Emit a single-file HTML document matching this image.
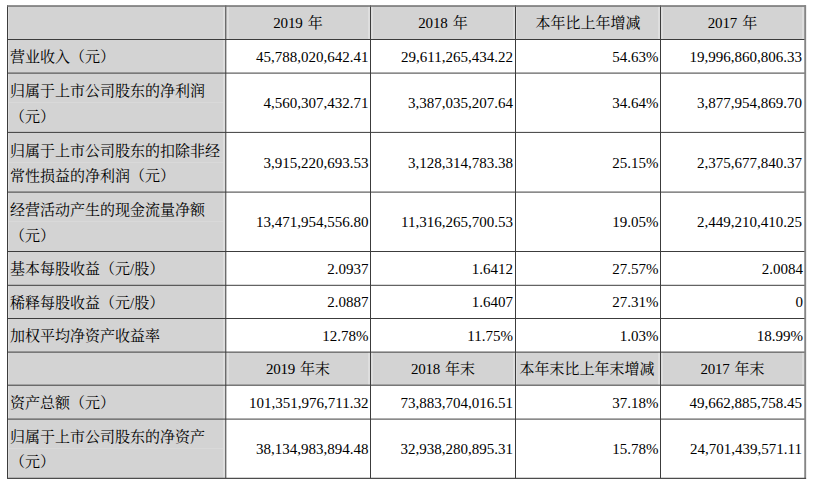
<!DOCTYPE html>
<html lang="zh-CN">
<head>
<meta charset="utf-8">
<title>主要会计数据和财务指标</title>
<style>
html,body{margin:0;padding:0;background:#fff;}
body{width:813px;height:485px;position:relative;overflow:hidden;
  font-family:"Liberation Serif",serif;font-size:15px;line-height:26px;color:#000;}
.c{position:absolute;box-sizing:border-box;display:flex;align-items:center;white-space:nowrap;}
.g{background:#d3d3d3;}
.s0{box-shadow:inset 1px 0 0 #dedede, inset -3px 0 0 #dedede;}
.s1{box-shadow:inset 3px 0 0 #dedede, inset -2px 0 0 #dedede;}
.s2{box-shadow:inset 3px 0 0 #dedede, inset -3px 0 0 #dedede;}
.s3{box-shadow:inset 1px 0 0 #dedede, inset -2px 0 0 #dedede;}
.s4{box-shadow:inset 3px 0 0 #dedede, inset -3px 0 0 #dedede;}
.seam{position:absolute;left:1px;right:3px;height:1px;background:#d9d9d9;}
.ln{position:absolute;left:2px;height:20px;line-height:20px;white-space:nowrap;}
.r{justify-content:flex-end;padding-right:2px;}
.m{justify-content:center;}
/* CJK run: real text in a CJK serif font */
.k{display:inline-block;vertical-align:baseline;white-space:nowrap;letter-spacing:0;
  font-family:"Liberation Serif","Noto Serif CJK SC",serif;font-size:15px;color:#000;}
svg.grid{position:absolute;left:0;top:0;}
</style>
</head>
<body>
<div class="c g s0" style="left:8px;top:6px;width:218px;height:34px"></div>
<div class="c g s1 m" style="left:226px;top:6px;width:144px;height:34px;letter-spacing:-0.15px"><span>2019 <span class="k" style="width:15px;margin-left:1.5px">年</span></span></div>
<div class="c g s2 m" style="left:370px;top:6px;width:146px;height:34px;letter-spacing:-0.15px"><span>2018 <span class="k" style="width:15px;margin-left:1.5px">年</span></span></div>
<div class="c g s3 m" style="left:516px;top:6px;width:144px;height:34px"><span><span class="k" style="width:105px">本年比上年增减</span></span></div>
<div class="c g s4 m" style="left:660px;top:6px;width:145px;height:34px;letter-spacing:-0.15px"><span>2017 <span class="k" style="width:15px;margin-left:1.5px">年</span></span></div>
<div class="c g s0" style="left:8px;top:40px;width:218px;height:33px"><div class="ln" style="top:7px"><span class="k" style="width:105px">营业收入（元）</span></div></div>
<div class="c r" style="left:226px;top:40px;width:144px;height:33px;padding-right:1.5px"><span>45,788,020,642.41</span></div>
<div class="c r" style="left:370px;top:40px;width:146px;height:33px;padding-right:3px"><span>29,611,265,434.22</span></div>
<div class="c r" style="left:516px;top:40px;width:144px;height:33px;padding-right:1.5px"><span>54.63%</span></div>
<div class="c r" style="left:660px;top:40px;width:145px;height:33px;padding-right:3px"><span>19,996,860,806.33</span></div>
<div class="c g s0" style="left:8px;top:73px;width:218px;height:59px"><div class="ln" style="top:8px"><span class="k" style="width:195px">归属于上市公司股东的净利润</span></div><div class="ln" style="top:34px"><span class="k" style="width:45px">（元）</span></div><div class="seam" style="top:29px"></div></div>
<div class="c r" style="left:226px;top:73px;width:144px;height:59px;padding-right:1.5px"><span>4,560,307,432.71</span></div>
<div class="c r" style="left:370px;top:73px;width:146px;height:59px;padding-right:3px"><span>3,387,035,207.64</span></div>
<div class="c r" style="left:516px;top:73px;width:144px;height:59px;padding-right:1.5px"><span>34.64%</span></div>
<div class="c r" style="left:660px;top:73px;width:145px;height:59px;padding-right:3px"><span>3,877,954,869.70</span></div>
<div class="c g s0" style="left:8px;top:132px;width:218px;height:60px"><div class="ln" style="top:9px"><span class="k" style="width:210px">归属于上市公司股东的扣除非经</span></div><div class="ln" style="top:34px"><span class="k" style="width:165px">常性损益的净利润（元）</span></div><div class="seam" style="top:30px"></div></div>
<div class="c r" style="left:226px;top:132px;width:144px;height:60px;padding-right:1.5px;padding-top:2px"><span>3,915,220,693.53</span></div>
<div class="c r" style="left:370px;top:132px;width:146px;height:60px;padding-right:3px;padding-top:2px"><span>3,128,314,783.38</span></div>
<div class="c r" style="left:516px;top:132px;width:144px;height:60px;padding-right:1.5px;padding-top:2px"><span>25.15%</span></div>
<div class="c r" style="left:660px;top:132px;width:145px;height:60px;padding-right:3px;padding-top:2px"><span>2,375,677,840.37</span></div>
<div class="c g s0" style="left:8px;top:192px;width:218px;height:60px"><div class="ln" style="top:8px"><span class="k" style="width:195px">经营活动产生的现金流量净额</span></div><div class="ln" style="top:34px"><span class="k" style="width:45px">（元）</span></div><div class="seam" style="top:29px"></div></div>
<div class="c r" style="left:226px;top:192px;width:144px;height:60px;padding-right:1.5px"><span>13,471,954,556.80</span></div>
<div class="c r" style="left:370px;top:192px;width:146px;height:60px;padding-right:3px"><span>11,316,265,700.53</span></div>
<div class="c r" style="left:516px;top:192px;width:144px;height:60px;padding-right:1.5px"><span>19.05%</span></div>
<div class="c r" style="left:660px;top:192px;width:145px;height:60px;padding-right:3px"><span>2,449,210,410.25</span></div>
<div class="c g s0" style="left:8px;top:252px;width:218px;height:33px"><div class="ln" style="top:7px"><span class="k" style="width:120px">基本每股收益（元</span>/<span class="k" style="width:30px">股）</span></div></div>
<div class="c r" style="left:226px;top:252px;width:144px;height:33px;padding-right:1.5px"><span>2.0937</span></div>
<div class="c r" style="left:370px;top:252px;width:146px;height:33px;padding-right:3px"><span>1.6412</span></div>
<div class="c r" style="left:516px;top:252px;width:144px;height:33px;padding-right:1.5px"><span>27.57%</span></div>
<div class="c r" style="left:660px;top:252px;width:145px;height:33px"><span>2.0084</span></div>
<div class="c g s0" style="left:8px;top:285px;width:218px;height:33px"><div class="ln" style="top:8px"><span class="k" style="width:120px">稀释每股收益（元</span>/<span class="k" style="width:30px">股）</span></div></div>
<div class="c r" style="left:226px;top:285px;width:144px;height:33px;padding-right:1.5px"><span>2.0887</span></div>
<div class="c r" style="left:370px;top:285px;width:146px;height:33px;padding-right:3px"><span>1.6407</span></div>
<div class="c r" style="left:516px;top:285px;width:144px;height:33px;padding-right:1.5px"><span>27.31%</span></div>
<div class="c r" style="left:660px;top:285px;width:145px;height:33px"><span>0</span></div>
<div class="c g s0" style="left:8px;top:318px;width:218px;height:34px"><div class="ln" style="top:8px"><span class="k" style="width:150px">加权平均净资产收益率</span></div></div>
<div class="c r" style="left:226px;top:318px;width:144px;height:34px;padding-right:1.5px;padding-top:2px"><span>12.78%</span></div>
<div class="c r" style="left:370px;top:318px;width:146px;height:34px;padding-right:3px;padding-top:2px"><span>11.75%</span></div>
<div class="c r" style="left:516px;top:318px;width:144px;height:34px;padding-right:1.5px;padding-top:2px"><span>1.03%</span></div>
<div class="c r" style="left:660px;top:318px;width:145px;height:34px;padding-top:2px"><span>18.99%</span></div>
<div class="c g s0" style="left:8px;top:352px;width:218px;height:33px"></div>
<div class="c g s1 m" style="left:226px;top:352px;width:144px;height:33px;letter-spacing:-0.3px"><span>2019 <span class="k" style="width:30px;margin-left:1.5px">年末</span></span></div>
<div class="c g s2 m" style="left:370px;top:352px;width:146px;height:33px;letter-spacing:-0.3px"><span>2018 <span class="k" style="width:30px;margin-left:1.5px">年末</span></span></div>
<div class="c g s3 m" style="left:516px;top:352px;width:144px;height:33px;padding-right:2px"><span><span class="k" style="width:135px">本年末比上年末增减</span></span></div>
<div class="c g s4 m" style="left:660px;top:352px;width:145px;height:33px;letter-spacing:-0.3px"><span>2017 <span class="k" style="width:30px;margin-left:1.5px">年末</span></span></div>
<div class="c g s0" style="left:8px;top:385px;width:218px;height:34px"><div class="ln" style="top:8px"><span class="k" style="width:105px">资产总额（元）</span></div></div>
<div class="c r" style="left:226px;top:385px;width:144px;height:34px;padding-right:1.5px;padding-top:2px"><span>101,351,976,711.32</span></div>
<div class="c r" style="left:370px;top:385px;width:146px;height:34px;padding-right:3px;padding-top:2px"><span>73,883,704,016.51</span></div>
<div class="c r" style="left:516px;top:385px;width:144px;height:34px;padding-right:1.5px;padding-top:2px"><span>37.18%</span></div>
<div class="c r" style="left:660px;top:385px;width:145px;height:34px;padding-right:3px;padding-top:2px"><span>49,662,885,758.45</span></div>
<div class="c g s0" style="left:8px;top:419px;width:218px;height:59px"><div class="ln" style="top:8px"><span class="k" style="width:195px">归属于上市公司股东的净资产</span></div><div class="ln" style="top:33px"><span class="k" style="width:45px">（元）</span></div><div class="seam" style="top:29px"></div></div>
<div class="c r" style="left:226px;top:419px;width:144px;height:59px;padding-right:1.5px"><span>38,134,983,894.48</span></div>
<div class="c r" style="left:370px;top:419px;width:146px;height:59px;padding-right:3px"><span>32,938,280,895.31</span></div>
<div class="c r" style="left:516px;top:419px;width:144px;height:59px;padding-right:1.5px"><span>15.78%</span></div>
<div class="c r" style="left:660px;top:419px;width:145px;height:59px;padding-right:3px"><span>24,701,439,571.11</span></div>
<svg class="grid" width="813" height="485" viewBox="0 0 813 485" aria-hidden="true">
<g stroke="#3c3c3c" stroke-width="1" fill="none">
<line x1="7.0" y1="39.5" x2="805.4" y2="39.5"/>
<line x1="7.0" y1="73.1" x2="805.4" y2="73.1"/>
<line x1="7.0" y1="132.4" x2="805.4" y2="132.4"/>
<line x1="7.0" y1="192.1" x2="805.4" y2="192.1"/>
<line x1="7.0" y1="251.5" x2="805.4" y2="251.5"/>
<line x1="7.0" y1="285.3" x2="805.4" y2="285.3"/>
<line x1="7.0" y1="318.5" x2="805.4" y2="318.5"/>
<line x1="7.0" y1="352.1" x2="805.4" y2="352.1"/>
<line x1="7.0" y1="385.2" x2="805.4" y2="385.2"/>
<line x1="7.0" y1="419.1" x2="805.4" y2="419.1"/>
<line x1="7.5" y1="5.4" x2="7.5" y2="478.6"/>
<line x1="225.8" y1="5.4" x2="225.8" y2="478.6"/>
<line x1="370.5" y1="5.4" x2="370.5" y2="478.6"/>
<line x1="515.5" y1="5.4" x2="515.5" y2="478.6"/>
<line x1="660.5" y1="5.4" x2="660.5" y2="478.6"/>
</g>
<line x1="7.0" y1="6.0" x2="805.9" y2="6.0" stroke="#6e6e6e" stroke-width="1.5"/>
<line x1="805.2" y1="5.2" x2="805.2" y2="478.7" stroke="#858585" stroke-width="1.9"/>
<line x1="7.0" y1="478.4" x2="806.1" y2="478.4" stroke="#4c4c4c" stroke-width="1.1"/>
</svg>
</body>
</html>
